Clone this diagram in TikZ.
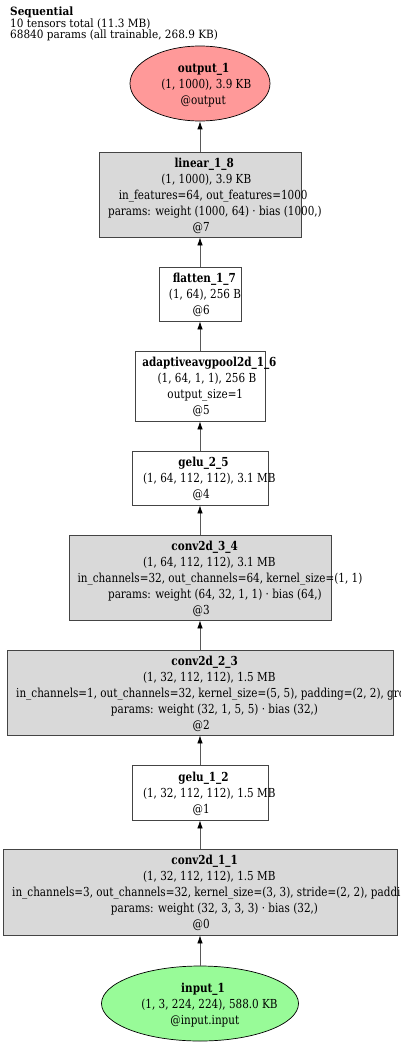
\documentclass[tikz,border=0pt]{standalone}
\usepackage{graphicx}
\usepackage{fontspec}
\setmainfont{DejaVu Serif}
\usetikzlibrary{arrows.meta,shapes.geometric}
\definecolor{outred}{HTML}{FF9999}
\definecolor{ingreen}{HTML}{98FB98}
\definecolor{boxgray}{HTML}{D9D9D9}
\definecolor{linegray}{HTML}{595959}
\definecolor{bordergray}{HTML}{444444}
\newsavebox\tlbox
\newcommand\tlfont{\fontsize{12.4bp}{14bp}\selectfont}
\newcommand\ttlfont{\fontsize{11.4bp}{13bp}\selectfont}
\newcommand\tsc{0.84}
\newcommand\tline[3]{%
  \node[lbl] (#1) at (200,#2) {\sbox\tlbox{\scalebox{\tsc}[1]{#3}}\hspace*{0.14\wd\tlbox}\usebox\tlbox};}
\tikzset{
  lbl/.style={inner sep=0pt, font=\tlfont, text height=9bp, text depth=0bp},
  ttl/.style={inner sep=0pt, font=\ttlfont, anchor=base west},
  boxnode/.style={draw=bordergray, line width=0.8bp, rectangle, inner sep=0pt},
  ellnode/.style={draw=black, line width=0.7bp, ellipse, inner sep=0pt},
  edge/.style={draw=linegray, line width=0.8bp, -{Latex[length=8bp,width=5.5bp,color=black]}}
}
\begin{document}
\begin{tikzpicture}[x=1bp,y=-1bp]
\fill[white] (0,0) rectangle (400,1046);
\useasboundingbox (0,0) rectangle (400,1046);

% header
\node[ttl] (hdr1) at (10,15.5) {\scalebox{0.92}[1]{\textbf{Sequential}}};
\node[ttl] (hdr2) at (10,27) {\scalebox{0.92}[1]{10 tensors total (11.3 MB)}};
\node[ttl] (hdr3) at (10,38.5) {\scalebox{0.92}[1]{68840 params (all trainable, 268.9 KB)}};

% shapes
\node[ellnode, fill=outred, minimum width=140bp, minimum height=75bp] (output) at (200,83.5) {};
\node[boxnode, fill=boxgray, minimum width=202bp, minimum height=85bp] (linear) at (200,194.5) {};
\node[boxnode, fill=white, minimum width=82bp, minimum height=54bp] (flatten) at (200,294) {};
\node[boxnode, fill=white, minimum width=130bp, minimum height=70bp] (pool) at (200,386) {};
\node[boxnode, fill=white, minimum width=136bp, minimum height=54bp] (geluB) at (200,478) {};
\node[boxnode, fill=boxgray, minimum width=262bp, minimum height=85bp] (convC) at (200,577.5) {};
\node[boxnode, fill=boxgray, minimum width=386bp, minimum height=85bp] (convB) at (200,692.5) {};
\node[boxnode, fill=white, minimum width=136bp, minimum height=55bp] (geluA) at (200,792.5) {};
\node[boxnode, fill=boxgray, minimum width=394bp, minimum height=86bp] (convA) at (200,892) {};
\node[ellnode, fill=ingreen, minimum width=197bp, minimum height=75bp] (input) at (200,1003.5) {};

% edges
\draw[edge] (input) -- (convA);
\draw[edge] (convA) -- (geluA);
\draw[edge] (geluA) -- (convB);
\draw[edge] (convB) -- (convC);
\draw[edge] (convC) -- (geluB);
\draw[edge] (geluB) -- (pool);
\draw[edge] (pool) -- (flatten);
\draw[edge] (flatten) -- (linear);
\draw[edge] (linear) -- (output);

% output
\tline{o1}{67.5}{\textbf{output\_1}}
\tline{o2}{83.5}{(1, 1000), 3.9 KB}
\tline{o3}{99.5}{@output}
% linear
\tline{l1}{162.5}{\textbf{linear\_1\_8}}
\tline{l2}{178.5}{(1, 1000), 3.9 KB}
\tline{l3}{194.5}{in\_features=64, out\_features=1000}
\tline{l4}{210.5}{params: weight (1000, 64) · bias (1000,)}
\tline{l5}{226.5}{@7}
% flatten
\tline{f1}{278}{\textbf{flatten\_1\_7}}
\tline{f2}{294}{(1, 64), 256 B}
\tline{f3}{310}{@6}
% pool
\tline{p1}{362}{\textbf{adaptiveavgpool2d\_1\_6}}
\tline{p2}{378}{(1, 64, 1, 1), 256 B}
\tline{p3}{394}{output\_size=1}
\tline{p4}{410}{@5}
% gelu_2_5
\tline{g1}{462}{\textbf{gelu\_2\_5}}
\tline{g2}{478}{(1, 64, 112, 112), 3.1 MB}
\tline{g3}{494}{@4}
% conv2d_3_4
\tline{c1}{545.5}{\textbf{conv2d\_3\_4}}
\tline{c2}{561.5}{(1, 64, 112, 112), 3.1 MB}
\tline{c3}{577.5}{in\_channels=32, out\_channels=64, kernel\_size=(1, 1)}
\tline{c4}{593.5}{params: weight (64, 32, 1, 1) · bias (64,)}
\tline{c5}{609.5}{@3}
% conv2d_2_3
\tline{b1}{660.5}{\textbf{conv2d\_2\_3}}
\tline{b2}{676.5}{(1, 32, 112, 112), 1.5 MB}
\node[lbl, anchor=west] (b3) at (16,692.5) {\scalebox{\tsc}[1]{in\_channels=1, out\_channels=32, kernel\_size=(5, 5), padding=(2, 2), gro}};
\tline{b4}{708.5}{params: weight (32, 1, 5, 5) · bias (32,)}
\tline{b5}{724.5}{@2}
% gelu_1_2
\tline{e1}{776.5}{\textbf{gelu\_1\_2}}
\tline{e2}{792.5}{(1, 32, 112, 112), 1.5 MB}
\tline{e3}{808.5}{@1}
% conv2d_1_1
\tline{a1}{860}{\textbf{conv2d\_1\_1}}
\tline{a2}{876}{(1, 32, 112, 112), 1.5 MB}
\node[lbl, anchor=west] (a3) at (12,892) {\scalebox{\tsc}[1]{in\_channels=3, out\_channels=32, kernel\_size=(3, 3), stride=(2, 2), paddi}};
\tline{a4}{908}{params: weight (32, 3, 3, 3) · bias (32,)}
\tline{a5}{924}{@0}
% input
\tline{i1}{987.5}{\textbf{input\_1}}
\tline{i2}{1003.5}{(1, 3, 224, 224), 588.0 KB}
\tline{i3}{1019.5}{@input.input}
\end{tikzpicture}
\end{document}
